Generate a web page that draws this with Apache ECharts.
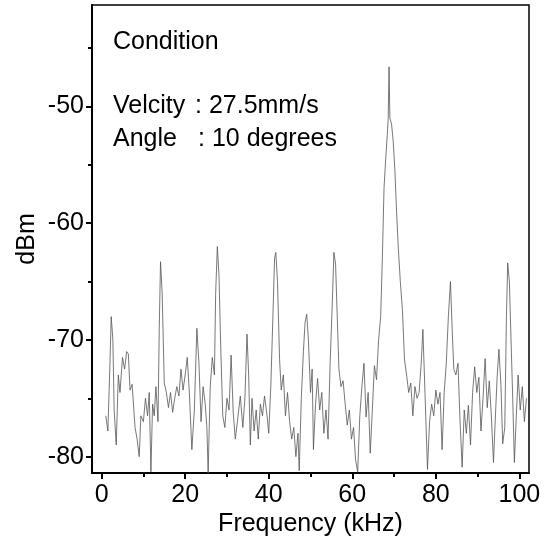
<!DOCTYPE html>
<html><head><meta charset="utf-8">
<script src="https://cdn.jsdelivr.net/npm/echarts@6/dist/echarts.min.js"></script>
<style>html,body{margin:0;padding:0;background:#fff}#c{width:550px;height:547px}</style>
</head><body><div id="c"></div>
<script>
const freq = [1.0,1.5,2.0,2.3,2.7,3.0,3.5,4.0,4.4,5.0,5.5,6.0,6.4,6.8,7.3,8.0,8.5,9.0,9.4,10.0,10.5,11.0,11.4,11.8,12.2,12.6,13.0,13.5,13.8,14.1,14.5,15.0,15.5,16.0,16.5,17.0,17.5,18.0,18.5,19.0,19.5,20.0,20.5,21.0,21.6,22.2,22.8,23.3,23.8,24.3,24.8,25.2,25.5,26.0,26.5,27.0,27.3,27.7,28.1,28.5,29.0,29.5,30.0,30.5,31.0,31.5,32.0,32.5,33.2,33.8,34.3,34.8,35.2,35.6,36.0,36.5,37.0,37.5,38.0,38.5,39.0,39.6,40.0,40.5,41.0,41.4,41.7,42.1,42.6,43.0,43.5,44.0,44.5,45.0,45.5,46.0,46.5,47.0,47.3,47.8,48.3,48.7,49.1,49.5,50.0,50.4,50.7,51.2,51.7,52.2,52.7,53.2,53.7,54.2,54.7,55.2,55.6,56.0,56.4,56.8,57.3,57.8,58.3,58.8,59.3,59.8,60.3,60.8,61.3,61.8,62.3,62.8,63.3,63.8,64.3,64.8,65.3,65.8,66.3,66.8,67.2,67.6,68.0,68.4,68.6,68.8,69.0,69.4,69.8,70.2,70.6,71.0,71.5,72.0,72.5,73.0,73.5,74.0,74.5,75.0,75.5,76.0,76.5,76.9,77.4,78.0,78.5,79.0,79.5,80.0,80.5,81.0,81.5,82.0,82.5,83.0,83.5,83.9,84.3,84.8,85.3,85.8,86.3,86.8,87.3,87.8,88.3,88.8,89.3,89.8,90.3,90.8,91.3,91.8,92.3,92.8,93.3,93.8,94.2,94.7,95.1,95.6,96.0,96.5,96.9,97.2,97.6,98.0,98.4,98.8,99.2,99.7,100.2,100.7,101.2,101.7];
const dbm = [-76.5,-77.8,-72,-68,-70,-76,-79,-73,-74.5,-71.5,-72.5,-71,-71.2,-74.3,-73.8,-77.5,-78.5,-80,-76.5,-77,-75,-76.5,-74.5,-81.3,-75.5,-76.5,-74,-77,-69,-63.3,-66,-73.7,-74.5,-75.8,-74.5,-76.2,-75,-74,-74.8,-72.5,-74.3,-73,-71.5,-74.5,-79.4,-76,-69,-72,-77,-74,-75.5,-77.5,-81.4,-74,-71.5,-73,-66,-62,-64.5,-70.5,-76.5,-77.5,-75,-76,-71.3,-76.2,-78.5,-77,-74.8,-77.5,-75,-69.5,-73,-79,-75,-77.8,-76,-78.5,-75.5,-76.5,-74.8,-76.5,-78,-74,-68,-63,-62.5,-65,-71.7,-74.3,-73,-76.5,-74.5,-77,-78.5,-77.5,-80,-78,-81.2,-75,-71,-68.5,-67.8,-70,-74.5,-72.5,-79.4,-75.5,-73.3,-76,-74.5,-78,-76,-78.5,-72,-67,-62.5,-63.5,-68,-72.5,-74,-73.5,-75.5,-77.3,-76,-78.5,-77.5,-80.3,-81.3,-76.5,-74,-72,-76.6,-74.5,-79.7,-76,-72.2,-73.4,-70,-68,-63,-57,-54.5,-52.3,-51,-46.6,-51,-51.5,-53,-55.5,-59,-62,-65,-67.4,-71.7,-73,-74.5,-73.7,-76.5,-74,-75,-74.5,-72,-69.1,-74.5,-81.1,-77,-75.5,-76.5,-74.3,-75.5,-74.5,-79.4,-74.5,-72,-68,-65,-69,-72.5,-73,-72,-77,-80.9,-76,-78,-75.6,-79,-74.5,-72.3,-74.5,-73.2,-77.8,-75,-71.6,-75.8,-73.5,-76.6,-80.5,-77,-73,-70.8,-74,-78.9,-77.5,-68,-63.4,-65,-70,-75,-80.5,-77,-73,-76,-74,-77,-75];
const xTicks = [0,20,40,60,80,100];
const xMinor = [10,30,50,70,90];
const yTicks = [-80,-70,-60,-50];
const yMinor = [-75,-65,-55,-45];
const xName = 'Frequency (kHz)';
const yName = 'dBm';
const notes = ['Condition','Velcity',': 27.5mm/s','Angle',': 10 degrees'];

const FONT = "'Liberation Sans', Arial, Helvetica, sans-serif";
const FS = 25;
const X0 = -2.3, X1 = 102.3, Y0 = -81.4, Y1 = -41.3;
const chart = echarts.init(document.getElementById('c'), null, {renderer:'canvas'});
const axisLineStyle = {color:'#000', width:2};
const txt = (t, x, y) => ({type:'text', x:x, y:y, style:{text:t, font:FS + 'px ' + FONT, fill:'#000', verticalAlign:'middle', align:'left'}});
chart.setOption({
  animation:false,
  backgroundColor:'#fff',
  grid:{left:92, top:5, right:21, bottom:74, show:true, borderColor:'#000', borderWidth:1.5, backgroundColor:'transparent'},
  xAxis:[{
    type:'value', min:X0, max:X1, position:'bottom',
    name:xName, nameLocation:'middle', nameGap:39, nameMoveOverlap:false,
    nameTextStyle:{fontFamily:FONT, fontSize:FS, color:'#000'},
    axisLine:{show:true, onZero:false, lineStyle:axisLineStyle},
    axisTick:{show:true, inside:false, length:6, lineStyle:{color:'#000', width:2}, customValues:xTicks},
    axisLabel:{show:true, customValues:xTicks, fontFamily:FONT, fontSize:FS, color:'#000', margin:10},
    splitLine:{show:false}
  },{
    type:'value', min:X0, max:X1, position:'bottom', gridIndex:0,
    axisLine:{show:false, onZero:false},
    axisTick:{show:true, inside:false, length:4, lineStyle:{color:'#000', width:2}, customValues:xMinor},
    axisLabel:{show:false}, splitLine:{show:false}
  }],
  yAxis:[{
    type:'value', min:Y0, max:Y1, position:'left',
    name:yName, nameLocation:'middle', nameGap:52, nameRotate:90, nameMoveOverlap:false,
    nameTextStyle:{fontFamily:FONT, fontSize:FS, color:'#000'},
    axisLine:{show:true, onZero:false, lineStyle:axisLineStyle},
    axisTick:{show:true, inside:false, length:6, lineStyle:{color:'#000', width:2}, customValues:yTicks},
    axisLabel:{show:true, customValues:yTicks, fontFamily:FONT, fontSize:FS, color:'#000', margin:8},
    splitLine:{show:false}
  },{
    type:'value', min:Y0, max:Y1, position:'left',
    axisLine:{show:false, onZero:false},
    axisTick:{show:true, inside:false, length:4, lineStyle:{color:'#000', width:2}, customValues:yMinor},
    axisLabel:{show:false}, splitLine:{show:false}
  }],
  series:[{
    type:'line', xAxisIndex:0, yAxisIndex:0,
    data:freq.map((f,i)=>[f, dbm[i]]),
    showSymbol:false, symbol:'none',
    lineStyle:{color:'#555', width:0.8},
    clip:true
  }],
  graphic:[
    txt(notes[0], 113, 42),
    txt(notes[1], 113, 106),
    txt(notes[2], 195, 106),
    txt(notes[3], 113, 139),
    txt(notes[4], 198, 139)
  ]
});
</script></body></html>
